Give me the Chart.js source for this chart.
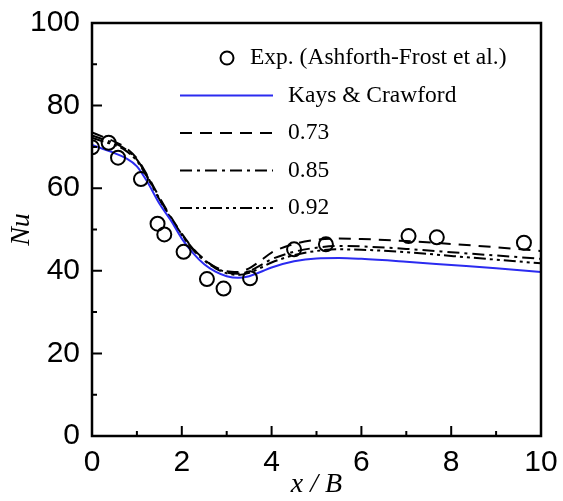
<!DOCTYPE html>
<html>
<head>
<meta charset="utf-8">
<script src="https://cdn.jsdelivr.net/npm/chart.js@4.4.1/dist/chart.umd.min.js"></script>
<style>
  html, body { margin: 0; padding: 0; background: #fff; }
  #wrap { width: 563px; height: 501px; }
</style>
</head>
<body>
<div id="wrap"><canvas id="nuChart" width="563" height="501"></canvas></div>
<script>
// --- Data ---
const expX = [0, 0.37, 0.58, 1.09, 1.46, 1.61, 2.04, 2.56, 2.93, 3.52, 4.5, 5.21, 7.05, 7.68, 9.62];
const expY = [69.9, 71.0, 67.4, 62.2, 51.4, 48.8, 44.6, 38.0, 35.7, 38.2, 45.2, 46.4, 48.4, 48.1, 46.8];

const curveX = [0, 0.25, 0.5, 0.75, 1, 1.25, 1.5, 1.75, 2, 2.25, 2.5, 2.75, 3, 3.25, 3.5, 3.75, 4, 4.5, 5, 5.5, 6, 7, 8, 9, 10];
const kaysY  = [70.5, 69.5, 68.5, 67.3, 65.3, 61.2, 56.3, 52.3, 47.8, 44.3, 41.6, 39.8, 38.7, 38.3, 38.7, 39.7, 40.8, 42.3, 43.0, 43.1, 42.9, 42.2, 41.4, 40.6, 39.7];
const pr073Y = [73.5, 72.4, 71.3, 69.8, 67.2, 62.8, 57.8, 53.2, 49.0, 45.4, 42.8, 40.9, 39.9, 39.7, 40.6, 42.4, 44.4, 46.5, 47.5, 47.8, 47.7, 47.2, 46.5, 45.7, 44.8];
const pr085Y = [72.8, 71.8, 70.9, 69.4, 66.9, 62.5, 57.5, 53.0, 48.8, 45.3, 42.7, 40.8, 39.6, 39.3, 39.9, 41.3, 42.8, 44.6, 45.6, 46.0, 45.9, 45.3, 44.5, 43.7, 42.9];
const pr092Y = [72.2, 71.3, 70.5, 69.1, 66.6, 62.3, 57.3, 52.8, 48.6, 45.1, 42.5, 40.6, 39.4, 39.0, 39.5, 40.7, 42.0, 43.8, 44.8, 45.2, 45.1, 44.5, 43.6, 42.7, 41.8];

const seriesLabels = ['Exp. (Ashforth-Frost et al.)', 'Kays & Crawford', '0.73', '0.85', '0.92'];
const xTicks = [0, 2, 4, 6, 8, 10];
const yTicks = [0, 20, 40, 60, 80, 100];

const toPoints = (xs, ys) => xs.map((x, i) => ({ x: x, y: ys[i] }));

const lineStyle = (label, ys, color, dash) => ({
    type: 'line',
    label: label,
    data: toPoints(curveX, ys),
    borderColor: color,
    borderWidth: 2,
    borderDash: dash,
    pointRadius: 0,
    fill: false,
    cubicInterpolationMode: 'monotone',
    order: 2
});

// --- Frame + inward ticks (left & bottom) ---
const frameTicks = {
    id: 'frameTicks',
    afterDraw(chart) {
        const { ctx, chartArea: a, scales } = chart;
        ctx.save();
        ctx.strokeStyle = '#000';
        ctx.lineWidth = 2.5;
        ctx.strokeRect(a.left, a.top, a.right - a.left, a.bottom - a.top);
        ctx.lineWidth = 2;
        ctx.beginPath();
        for (let v = 0; v <= 10; v += 1) {
            const px = scales.x.getPixelForValue(v);
            const len = v % 2 === 0 ? 10 : 5;
            ctx.moveTo(px, a.bottom);
            ctx.lineTo(px, a.bottom - len);
        }
        for (let v = 0; v <= 100; v += 10) {
            const py = scales.y.getPixelForValue(v);
            const len = v % 20 === 0 ? 10 : 5;
            ctx.moveTo(a.left, py);
            ctx.lineTo(a.left + len, py);
        }
        ctx.stroke();
        ctx.restore();
    }
};

// --- Legend drawn inside the plot, Tecplot style ---
const innerLegend = {
    id: 'innerLegend',
    afterDraw(chart) {
        const ctx = chart.ctx;
        const rows = [58, 95.5, 133, 170.5, 208];
        const x0 = 180, x1 = 273, textX = 288;
        ctx.save();
        ctx.font = '23.5px "Liberation Serif", "Times New Roman", serif';
        ctx.textBaseline = 'middle';
        ctx.fillStyle = '#000';
        chart.data.datasets.forEach((ds, i) => {
            const y = rows[i];
            if (ds.type === 'scatter') {
                ctx.beginPath();
                ctx.lineWidth = 2;
                ctx.strokeStyle = '#000';
                ctx.arc(227, y, 6.5, 0, Math.PI * 2);
                ctx.stroke();
                ctx.fillText(ds.label, 250, y);
            } else {
                ctx.beginPath();
                ctx.lineWidth = ds.borderWidth;
                ctx.strokeStyle = ds.borderColor;
                ctx.setLineDash(ds.borderDash || []);
                ctx.moveTo(x0, y);
                ctx.lineTo(x1, y);
                ctx.stroke();
                ctx.setLineDash([]);
                ctx.fillText(ds.label, textX, y);
            }
        });
        ctx.restore();
    }
};

const tickFont = { family: '"Liberation Sans", Arial, sans-serif', size: 30 };
const titleFont = { family: '"Liberation Serif", "Times New Roman", serif', size: 28, style: 'italic' };

new Chart(document.getElementById('nuChart'), {
    type: 'scatter',
    data: {
        datasets: [
            {
                type: 'scatter',
                label: seriesLabels[0],
                data: toPoints(expX, expY),
                pointStyle: 'circle',
                pointRadius: 7,
                pointBorderWidth: 2,
                borderColor: '#000',
                backgroundColor: 'rgba(0,0,0,0)',
                order: 1
            },
            lineStyle(seriesLabels[1], kaysY, '#2b2bf0', []),
            lineStyle(seriesLabels[2], pr073Y, '#000', [12, 8]),
            lineStyle(seriesLabels[3], pr085Y, '#000', [12, 5, 3, 5]),
            lineStyle(seriesLabels[4], pr092Y, '#000', [12, 4, 3, 4, 3, 4])
        ]
    },
    options: {
        responsive: false,
        animation: false,
        layout: { padding: { top: 23, right: 22, left: 0, bottom: 0 } },
        plugins: {
            legend: { display: false },
            tooltip: { enabled: false }
        },
        scales: {
            x: {
                type: 'linear',
                min: 0, max: 10,
                afterBuildTicks: s => { s.ticks = xTicks.map(v => ({ value: v })); },
                afterFit: s => { s.height = 65; },
                grid: { display: false },
                border: { display: false },
                ticks: { font: tickFont, color: '#000', padding: 1, maxRotation: 0 },
                title: { display: true, text: 'x / B', font: titleFont, color: '#000', padding: { top: -8, bottom: 0 } }
            },
            y: {
                type: 'linear',
                min: 0, max: 100,
                afterBuildTicks: s => { s.ticks = yTicks.map(v => ({ value: v })); },
                afterFit: s => { s.width = 92; },
                grid: { display: false },
                border: { display: false },
                ticks: { font: tickFont, color: '#000', padding: 4 },
                title: { display: true, text: 'Nu', font: titleFont, color: '#000', padding: { top: 5, bottom: 0 } }
            }
        }
    },
    plugins: [frameTicks, innerLegend]
});
</script>
</body>
</html>
